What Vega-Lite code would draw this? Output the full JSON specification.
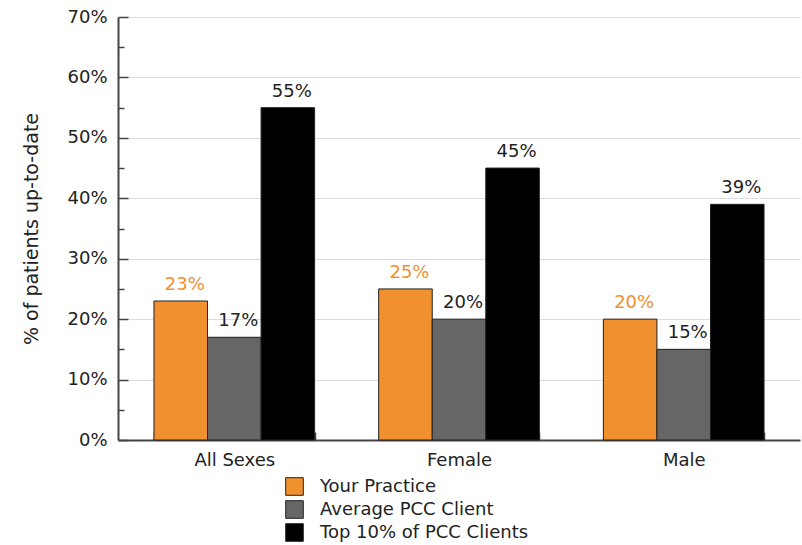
{
  "$schema": "https://vega.github.io/schema/vega-lite/v6.json",
  "width": 682,
  "height": 423,
  "autosize": {"type": "none"},
  "padding": {"left": 118, "top": 17, "right": 2, "bottom": 105},
  "background": "white",
  "config": {
    "font": "DejaVu Sans",
    "view": {"stroke": null},
    "axis": {"labelFont": "DejaVu Sans", "titleFont": "DejaVu Sans", "labelColor": "#222", "titleColor": "#222"}
  },
  "data": {
    "values": [
      {"group": "All Sexes", "series": "Your Practice", "value": 0.23},
      {"group": "All Sexes", "series": "Average PCC Client", "value": 0.17},
      {"group": "All Sexes", "series": "Top 10% of PCC Clients", "value": 0.55},
      {"group": "Female", "series": "Your Practice", "value": 0.25},
      {"group": "Female", "series": "Average PCC Client", "value": 0.20},
      {"group": "Female", "series": "Top 10% of PCC Clients", "value": 0.45},
      {"group": "Male", "series": "Your Practice", "value": 0.20},
      {"group": "Male", "series": "Average PCC Client", "value": 0.15},
      {"group": "Male", "series": "Top 10% of PCC Clients", "value": 0.39}
    ]
  },
  "encoding": {
    "x": {
      "field": "group", "type": "nominal", "sort": null,
      "scale": {"paddingInner": 0.285, "paddingOuter": 0.16},
      "axis": {
        "title": null, "labelAngle": 0, "labelFontSize": 18, "labelPadding": 19,
        "domainColor": "#444", "domainWidth": 2,
        "tickBand": "extent", "tickSize": -8, "tickColor": "#444", "tickWidth": 1.5
      }
    },
    "xOffset": {"field": "series", "type": "nominal", "sort": ["Your Practice", "Average PCC Client", "Top 10% of PCC Clients"], "scale": {"paddingInner": 0, "paddingOuter": 0}},
    "y": {
      "field": "value", "type": "quantitative",
      "scale": {"domain": [0, 0.7], "nice": false},
      "axis": {
        "title": "% of patients up-to-date", "titleFontSize": 19, "titleFontWeight": "normal", "titlePadding": 25,
        "format": ".0%", "labelFontSize": 18, "labelPadding": 21,
        "values": [0, 0.05, 0.1, 0.15, 0.2, 0.25, 0.3, 0.35, 0.4, 0.45, 0.5, 0.55, 0.6, 0.65, 0.7],
        "labelExpr": "round(datum.value*100) % 10 === 0 ? datum.label : ''",
        "domainColor": "#444", "domainWidth": 2,
        "tickColor": "#444", "tickWidth": 1.5,
        "tickSize": {"condition": {"test": "round(datum.value*100) % 10 === 0", "value": -10}, "value": -6},
        "grid": true, "gridColor": "#dddddd",
        "gridOpacity": {"condition": {"test": "round(datum.value*100) % 10 === 0", "value": 1}, "value": 0}
      }
    }
  },
  "layer": [
    {
      "mark": {"type": "bar", "stroke": "#222", "strokeWidth": 1},
      "encoding": {
        "color": {
          "field": "series", "type": "nominal",
          "scale": {"domain": ["Your Practice", "Average PCC Client", "Top 10% of PCC Clients"], "range": ["#F0902F", "#666666", "#000000"]},
          "legend": {
            "title": null, "orient": "none", "legendX": 167, "legendY": 460, "direction": "vertical",
            "symbolType": "square", "symbolSize": 310, "symbolStrokeColor": "#222", "symbolStrokeWidth": 1,
            "labelFontSize": 18, "labelColor": "#222", "labelOffset": 16, "rowPadding": 0, "labelLimit": 400, "labelFont": "DejaVu Sans"
          }
        }
      }
    },
    {
      "mark": {"type": "text", "dy": -7, "dx": 4, "fontSize": 18, "baseline": "bottom"},
      "encoding": {
        "text": {"field": "value", "type": "quantitative", "format": ".0%"},
        "color": {"condition": {"test": "datum.series === 'Your Practice'", "value": "#F0902F"}, "value": "#222"}
      }
    }
  ]
}
